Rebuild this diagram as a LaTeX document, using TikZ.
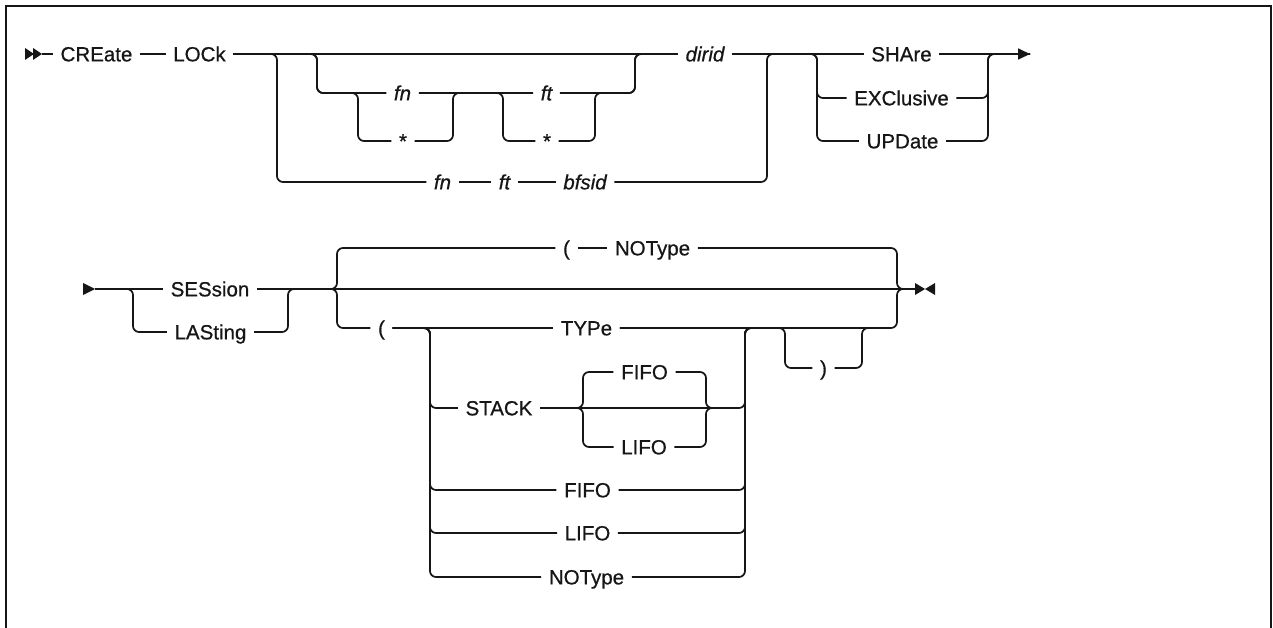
\documentclass[tikz,border=0pt]{standalone}
\usepackage{fontspec}
\setmainfont{Liberation Sans}
\newfontfamily\railff[RawFeature={embolden=0.7}]{Liberation Sans}
\usetikzlibrary{arrows.meta, positioning}
\definecolor{railcolor}{HTML}{161616}
\def\rowa{54}
\def\rowb{289}
\newcommand\railfont{\railff\fontsize{20.5}{24}\selectfont}

\begin{document}
\begin{tikzpicture}[x=1pt, y=-1pt,
    every node/.style={font=\railfont, text=railcolor},
    kw/.style={inner xsep=7.5pt, inner ysep=0pt, text height=14.7pt, text depth=0pt, anchor=center},
    var/.style={kw, font=\railfont\itshape},
    rail/.style={draw=railcolor, line width=1.7pt, rounded corners=6pt},
    frame/.style={draw=railcolor, line width=2pt},
    tip/.style={fill=railcolor},
    arr/.style={rail, -{Triangle[length=12pt, width=11pt]}},
]
\useasboundingbox (0,0) rectangle (1273,628);

% ---------------------------------------------------------- frame
\draw[frame] (6,628) -- (6,6) -- (1271,6) -- (1271,628);

% ---------------------------------------------------------- first line
\fill[tip] (25,48) -- (34,\rowa) -- (25,60) -- cycle;
\fill[tip] (33,48) -- (42,\rowa) -- (33,60) -- cycle;
\coordinate (start1) at (42,\rowa);
\coordinate (arrowend) at (1030,\rowa);

\node[kw]  (create) at (96.5,\rowa)  {CREate};
\node[kw]  (lock)   at (199.5,\rowa) {LOCk};
\node[var] (fnA)    at (402.5,93)    {fn};
\node[kw]  (starA)  at (403,141)     {*};
\node[var] (ftA)    at (546.5,93)    {ft};
\node[kw]  (starB)  at (547,141)     {*};
\node[var] (dirid)  at (705,\rowa)   {dirid};
\node[var] (fnB)    at (442.5,182)   {fn};
\node[var] (ftB)    at (504.5,182)   {ft};
\node[var] (bfsid)  at (585,182)     {bfsid};
\node[kw]  (share)  at (901.5,\rowa) {SHAre};
\node[kw]  (excl)   at (901.5,98)    {EXClusive};
\node[kw]  (update) at (902.5,141)   {UPDate};

\draw[rail] (start1) -- (create.west);
\draw[rail] (create.east) -- (lock.west);
\draw[rail] (lock.east) -- (dirid.west);

% file name part, or the bfsid form
\draw[rail] (lock.east) -- (277,\rowa) -- (277,182) -- (fnB.west);
\draw[rail] (fnB.east) -- (ftB.west);
\draw[rail] (ftB.east) -- (bfsid.west);
\draw[rail] (bfsid.east) -- (767,182) -- (767,\rowa) -- (share.west);

\draw[rail] (lock.east) -- (317,\rowa) -- (317,93) -- (fnA.west);
\draw[rail] (lock.east) -- (317,\rowa) -- (317,93) -- (358,93) -- (358,141) -- (starA.west);
\draw[rail] (starA.east) -- (453,141) -- (453,93) -- (ftA.west);
\draw[rail] (fnA.east) -- (ftA.west);
\draw[rail] (fnA.east) -- (503,93) -- (503,141) -- (starB.west);
\draw[rail] (starB.east) -- (595,141) -- (595,93) -- (635,93) -- (635,\rowa) -- (dirid.west);
\draw[rail] (ftA.east) -- (635,93) -- (635,\rowa) -- (dirid.west);

% lock mode
\draw[rail] (dirid.east) -- (share.west);
\foreach \n/\y in {excl/98, update/141} {
  \draw[rail] (dirid.east) -- (817,\rowa) -- (817,\y) -- (\n.west);
  \draw[rail] (\n.east) -- (988,\y) -- (988,\rowa) -- (arrowend);
}
\draw[arr] (share.east) -- (arrowend);

% ---------------------------------------------------------- second line
\fill[tip] (83,283) -- (95,\rowb) -- (83,295) -- cycle;
\coordinate (start2) at (95,\rowb);
\coordinate (stop) at (915,\rowb);
\fill[tip] (915,283) -- (925,\rowb) -- (915,295) -- cycle;
\fill[tip] (935,283) -- (925,\rowb) -- (935,295) -- cycle;

\node[kw] (session) at (210,\rowb)  {SESsion};
\node[kw] (lasting) at (210.5,332)  {LASting};
\node[kw] (lpA)     at (566.5,248)  {(};
\node[kw] (notypeA) at (652.5,248)  {NOType};
\node[kw] (lpB)     at (381.5,328)  {(};
\node[kw] (type)    at (586.5,328)  {TYPe};
\node[kw] (stack)   at (499,408)    {STACK};
\node[kw] (fifoA)   at (644.5,372)  {FIFO};
\node[kw] (lifoA)   at (644,447)    {LIFO};
\node[kw] (fifoB)   at (587.5,490)  {FIFO};
\node[kw] (lifoB)   at (587.5,533)  {LIFO};
\node[kw] (notypeB) at (586.5,577)  {NOType};
\node[kw] (rp)      at (823.5,368)  {)};

\draw[rail] (start2) -- (session.west);
\draw[rail] (start2) -- (133,\rowb) -- (133,332) -- (lasting.west);
\draw[rail] (lasting.east) -- (288,332) -- (288,\rowb) -- (305,\rowb);

% type options
\draw[rail] (session.east) -- (stop);
\draw[rail] (session.east) -- (337,\rowb) -- (337,248) -- (lpA.west);
\draw[rail] (session.east) -- (337,\rowb) -- (337,328) -- (lpB.west);
\draw[rail] (lpA.east) -- (notypeA.west);
\draw[rail] (notypeA.east) -- (897,248) -- (897,\rowb) -- (stop);
\draw[rail] (lpB.east) -- (type.west);
\draw[rail] (type.east) -- (897,328) -- (897,\rowb) -- (stop);

\foreach \n/\y in {stack/408, fifoB/490, lifoB/533, notypeB/577} {
  \draw[rail] (lpB.east) -- (430,328) -- (430,\y) -- (\n.west);
  \draw[rail] (\n.east) -- (745,\y) -- (745,328) -- (770,328);
}
\foreach \n/\y in {fifoA/372, lifoA/447} {
  \draw[rail] (stack.east) -- (583,408) -- (583,\y) -- (\n.west);
  \draw[rail] (\n.east) -- (706,\y) -- (706,408) -- (730,408);
}

% closing parenthesis
\draw[rail] (type.east) -- (785,328) -- (785,368) -- (rp.west);
\draw[rail] (rp.east) -- (862,368) -- (862,328) -- (880,328);

\end{tikzpicture}
\end{document}
